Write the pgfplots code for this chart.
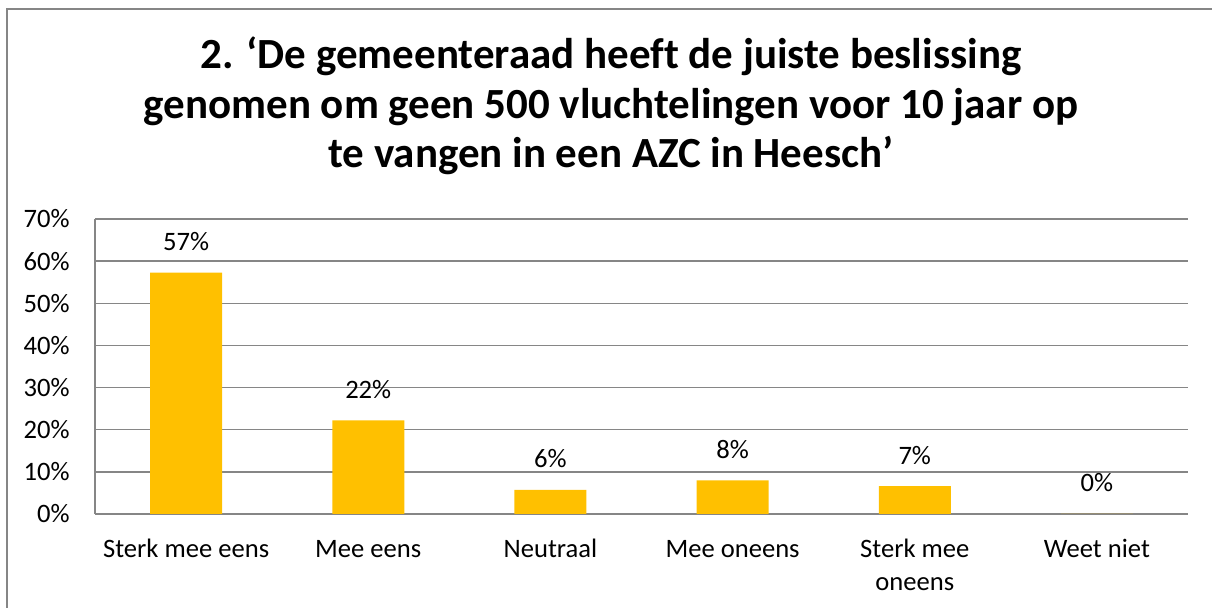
\documentclass[border=0pt]{standalone}
\usepackage{pgfplots}
\pgfplotsset{compat=1.18}
\usepackage{fontspec}
\setmainfont{Carlito}[Ligatures=NoCommon]
\definecolor{bargold}{HTML}{FFC000}
\definecolor{gridgray}{HTML}{868686}
\begin{document}
\begin{tikzpicture}[x=0.5pt,y=0.5pt]
\path[use as bounding box] (0,0) rectangle (1212,608);
\draw[gridgray, line width=1.1pt] (7,0) -- (7,599) -- (1212,599);
\node[anchor=base, font=\fontsize{21.5}{26}\selectfont\bfseries] at (611,539) {2. ‘De gemeenteraad heeft de juiste beslissing};
\node[anchor=base, font=\fontsize{21.5}{26}\selectfont\bfseries] at (611,489) {genomen om geen 500 vluchtelingen voor 10 jaar op};
\node[anchor=base, font=\fontsize{21.5}{26}\selectfont\bfseries] at (611,440) {te vangen in een AZC in Heesch’};
\begin{axis}[
  at={(47.5pt,47pt)}, anchor=south west,
  scale only axis, width=546.5pt, height=147.5pt,
  xmin=-0.5, xmax=5.5, ymin=0, ymax=70,
  axis x line*=bottom, axis y line*=left,
  axis line style={gridgray, line width=0.75pt, -},
  major tick length=0pt,
  ytick={0,10,...,70},
  yticklabels={0\%,10\%,20\%,30\%,40\%,50\%,60\%,70\%},
  ymajorgrids, grid style={gridgray, line width=0.75pt},
  xtick={0,...,5},
  xticklabels={Sterk mee eens, Mee eens, Neutraal, Mee oneens, {\begin{tabular}[t]{@{}c@{}}Sterk mee\\oneens\end{tabular}}, Weet niet},
  xticklabel style={anchor=base, inner sep=0pt, yshift=-22pt, font=\fontsize{13.3}{16.3}\selectfont},
  yticklabel style={anchor=east, inner sep=0pt, xshift=-12.5pt, font=\fontsize{13.3}{16.3}\selectfont},
  ybar, bar width=36pt,
  nodes near coords={\pgfmathprintnumber[fixed,precision=0]{\pgfplotspointmeta}\%},
  nodes near coords style={anchor=base, yshift=11pt, font=\fontsize{13.3}{16.3}\selectfont, /pgf/number format/assume math mode=true},
  clip=false,
]
\addplot[fill=bargold, draw=none] coordinates {(0,57.3) (1,22.2) (2,5.7) (3,8.0) (4,6.6) (5,0)};
\end{axis}
\end{tikzpicture}
\end{document}
